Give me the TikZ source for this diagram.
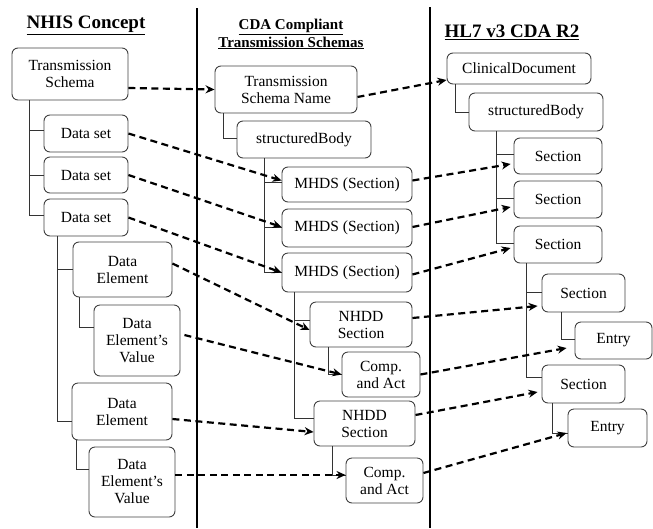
\documentclass[tikz,border=0pt]{standalone}
\usepackage{fontspec}
\setmainfont{Liberation Serif}
\usetikzlibrary{arrows.meta}
\begin{document}
\begin{tikzpicture}[x=1pt,y=-1pt,
  bx/.style={draw=black!75,line width=0.9pt,rounded corners=6pt,inner sep=0pt,align=center,
    font=\fontsize{15.5}{17}\selectfont},
  tree/.style={draw=black!80,line width=0.9pt},
  map/.style={draw=black,line width=2.2pt,dash pattern=on 7pt off 4.5pt,-{Stealth[length=9pt,width=8pt]}},
  sep/.style={draw=black,line width=2pt},
  ttl/.style={font=\fontsize{19}{22}\selectfont\bfseries,align=center,inner sep=0pt},
  ttl2/.style={font=\fontsize{15}{18}\selectfont\bfseries,align=center,inner sep=0pt}]
\useasboundingbox (0,0) rectangle (653,528);
% separators
\draw[sep] (197,8) -- (197,528);
\draw[sep] (430,7) -- (430,528);
% titles
\node[ttl] (t1) at (86,25) {\underline{NHIS Concept}};
\node[ttl2] (t2) at (291,34) {\underline{CDA Compliant}\\\underline{Transmission Schemas}};
\node[ttl] (t3) at (512,32) {\underline{HL7 v3 CDA R2}};
% left column
\node[bx,minimum width=116,minimum height=52] (ts) at (70,74) {Transmission\\Schema};
\node[bx,minimum width=84,minimum height=37] (ds1) at (86,133.5) {Data set};
\node[bx,minimum width=84,minimum height=36] (ds2) at (86,175) {Data set};
\node[bx,minimum width=84,minimum height=37] (ds3) at (86,217.5) {Data set};
\node[bx,minimum width=99,minimum height=55] (de1) at (122.5,269.5) {Data\\Element};
\node[bx,minimum width=86,minimum height=71] (dv1) at (137,340.5) {Data\\Element’s\\Value};
\node[bx,minimum width=100,minimum height=57] (de2) at (122,411.5) {Data\\Element};
\node[bx,minimum width=86,minimum height=70] (dv2) at (132,482) {Data\\Element’s\\Value};
% middle column
\node[bx,minimum width=142,minimum height=47] (tsn) at (286,89.5) {Transmission\\Schema Name};
\node[bx,minimum width=134,minimum height=37] (sb1) at (304,139.5) {structuredBody};
\node[bx,minimum width=130,minimum height=35] (m1) at (347,184.5) {MHDS (Section)};
\node[bx,minimum width=130,minimum height=38] (m2) at (347,228) {MHDS (Section)};
\node[bx,minimum width=130,minimum height=39] (m3) at (347,272.5) {MHDS (Section)};
\node[bx,minimum width=102,minimum height=45] (n1) at (361,324.5) {NHDD\\Section};
\node[bx,minimum width=78,minimum height=45] (c1) at (381,374.5) {Comp.\\and Act};
\node[bx,minimum width=101,minimum height=45] (n2) at (364.5,423.5) {NHDD\\Section};
\node[bx,minimum width=77,minimum height=45] (c2) at (384.5,480.5) {Comp.\\and Act};
% right column
\node[bx,minimum width=144,minimum height=31] (cd) at (519,68.5) {ClinicalDocument};
\node[bx,minimum width=134,minimum height=38] (sb2) at (536,112) {structuredBody};
\node[bx,minimum width=88,minimum height=36] (s1) at (558,156) {Section};
\node[bx,minimum width=88,minimum height=37] (s2) at (558,199.5) {Section};
\node[bx,minimum width=88,minimum height=37] (s3) at (558,244.5) {Section};
\node[bx,minimum width=83,minimum height=38] (s4) at (583.5,293) {Section};
\node[bx,minimum width=77,minimum height=37] (e1) at (613.5,340.5) {Entry};
\node[bx,minimum width=83,minimum height=38] (s5) at (583.5,384) {Section};
\node[bx,minimum width=79,minimum height=38] (e2) at (607.5,428) {Entry};
% trees
\draw[tree] ([xshift=18pt]ts.south west) |- ([yshift=3.5pt]ds1.west);
\draw[tree] ([xshift=18pt]ts.south west) |- (ds2.west);
\draw[tree] ([xshift=18pt]ts.south west) |- ([yshift=2.5pt]ds3.west);
\draw[tree] ([xshift=14pt]ds3.south west) |- (de1.west);
\draw[tree] ([xshift=14pt]ds3.south west) |- ([yshift=-10pt]de2.west);
\draw[tree] ([xshift=7pt]de1.south west) |- ([yshift=13.5pt]dv1.west);
\draw[tree] ([xshift=5pt]de2.south west) |- ([yshift=13pt]dv2.west);
\draw[tree] ([xshift=9pt]tsn.south west) |- ([yshift=1.5pt]sb1.west);
\draw[tree] ([xshift=28pt]sb1.south west) |- ([yshift=2.5pt]m1.west);
\draw[tree] ([xshift=28pt]sb1.south west) |- ([yshift=1pt]m2.west);
\draw[tree] ([xshift=28pt]sb1.south west) |- (m3.west);
\draw[tree] ([xshift=13pt]m3.south west) |- ([yshift=4.5pt]n1.west);
\draw[tree] ([xshift=13pt]m3.south west) |- ([yshift=5.5pt]n2.west);
\draw[tree] ([xshift=19pt]n1.south west) |- (c1.west);
\draw[tree] ([xshift=19pt]n2.south west) |- ([yshift=5.5pt]c2.west);
\draw[tree] ([xshift=9pt]cd.south west) |- (sb2.west);
\draw[tree] ([xshift=28pt]sb2.south west) |- ([yshift=2pt]s1.west);
\draw[tree] ([xshift=28pt]sb2.south west) |- ([yshift=1.5pt]s2.west);
\draw[tree] ([xshift=28pt]sb2.south west) |- ([yshift=1.5pt]s3.west);
\draw[tree] ([xshift=13pt]s3.south west) |- ([yshift=1pt]s4.west);
\draw[tree] ([xshift=13pt]s3.south west) |- ([yshift=7pt]s5.west);
\draw[tree] ([xshift=20pt]s4.south west) |- ([yshift=1.5pt]e1.west);
\draw[tree] ([xshift=11pt]s5.south west) |- ([yshift=-5pt]e2.west);
% mappings
\draw[map] ([yshift=-14pt]ts.east) -- (tsn.west);
\draw[map] ([yshift=-7.5pt]tsn.east) -- ([yshift=-11.5pt]cd.west);
\draw[map] (ds1.east) -- ([yshift=4pt]m1.west);
\draw[map] (ds2.east) -- ([yshift=1pt]m2.west);
\draw[map] (ds3.east) -- (m3.west);
\draw[map] ([yshift=4pt]m1.east) -- ([xshift=-3pt,yshift=-8pt]s1.west);
\draw[map] ([yshift=1pt]m2.east) -- ([xshift=-3pt,yshift=-7.5pt]s2.west);
\draw[map] ([yshift=-2pt]m3.east) -- ([xshift=-3pt,yshift=-3.5pt]s3.west);
\draw[map] ([yshift=6pt]de1.east) -- ([yshift=-5.5pt]n1.west);
\draw[map] ([xshift=4pt,yshift=5.5pt]dv1.east) -- (c1.west);
\draw[map] ([yshift=-7.5pt]de2.east) -- ([yshift=-8.5pt]n2.west);
\draw[map] ([yshift=7pt]dv2.east) -- ([yshift=5.5pt]c2.west);
\draw[map] ([yshift=6.5pt]n1.east) -- ([xshift=-4pt,yshift=-13pt]s4.west);
\draw[map] (c1.east) -- ([xshift=-8pt,yshift=-7.5pt]e1.west);
\draw[map] ([yshift=8.5pt]n2.east) -- ([xshift=-4pt,yshift=-8pt]s5.west);
\draw[map] ([yshift=7.5pt]c2.east) -- ([xshift=-1pt,yshift=-5pt]e2.west);
\end{tikzpicture}
\end{document}
